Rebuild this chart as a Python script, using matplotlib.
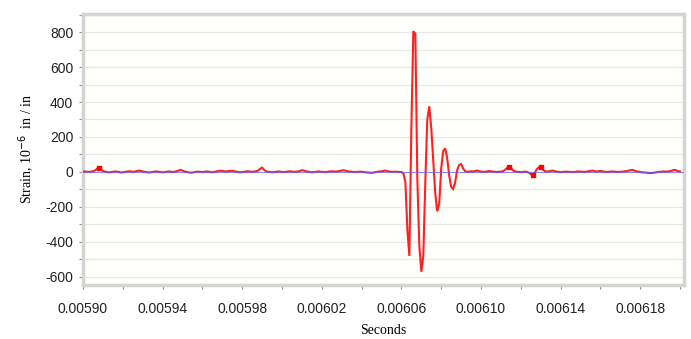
import numpy as np
import matplotlib
matplotlib.use("Agg")
import matplotlib.pyplot as plt
from matplotlib.ticker import MultipleLocator, FixedLocator

plt.rcParams["axes.unicode_minus"] = False

# Strain gauge record, one sample per microsecond starting at t0
t0 = 0.00590
dt = 0.000001
strain = [
    2, 3, 1, 0, 2, 4, 8, 18, 25, 15,
    6, 2, 0, -2, -1, 1, 3, 2, 0, -3,
    -2, 0, 2, 4, 3, 1, 2, 5, 8, 6,
    3, 1, -1, -3, -2, 0, 2, 3, 1, 0,
    -2, -1, 1, 3, 2, 0, 1, 4, 8, 12,
    8, 3, 0, -2, -4, -3, -1, 1, 2, 0,
    -1, 1, 3, 2, 0, -2, 0, 3, 5, 8,
    6, 4, 3, 5, 6, 7, 4, 2, 0, -2,
    -1, 1, 3, 4, 2, 1, 2, 4, 8, 18,
    25, 12, 4, 1, 0, -2, -1, 1, 3, 2,
    0, -1, 1, 3, 4, 2, 1, 2, 3, 6,
    10, 8, 4, 2, 0, -2, -1, 1, 3, 2,
    1, 0, -1, 1, 3, 4, 3, 2, 4, 6,
    8, 10, 7, 4, 2, 1, 0, -1, 1, 2,
    1, 0, -2, -3, -4, -5, -3, -1, 1, 3,
    4, 6, 8, 5, 2, 0, 1, 2, 1, 0,
    0, -8, -60, -330, -480, 250, 805, 790, -40, -420,
    -570, -480, -60, 300, 375, 250, 60, -120, -225, -180,
    20, 120, 135, 80, -20, -85, -97, -60, 10, 40,
    45, 20, 5, 0, 2, 4, 3, 5, 8, 5,
    2, 0, 1, 3, 6, 4, 2, 1, 0, 1,
    2, 4, 12, 22, 28, 24, 10, 4, 1, 0,
    -1, 0, 2, 1, -4, -12, -19, -5, 15, 26,
    28, 15, 6, 2, 3, 6, 8, 5, 2, 0,
    -1, 0, 1, 2, 1, 0, -1, 0, 2, 3,
    2, 1, 0, 2, 4, 6, 8, 5, 3, 4,
    6, 4, 2, 0, 1, 2, 3, 2, 1, 0,
    1, 2, 3, 5, 7, 10, 12, 8, 4, 2,
    0, -2, -3, -4, -5, -6, -6, -4, -2, 0,
    1, 2, 3, 2, 3, 5, 8, 12, 10, 5,
    3,
]
# samples highlighted with square markers
marked_idx = [8, 214, 226, 230]

x_ticks = [0.00590, 0.00594, 0.00598, 0.00602, 0.00606, 0.00610, 0.00614, 0.00618]
x_tick_labels = ["0.00590", "0.00594", "0.00598", "0.00602",
                 "0.00606", "0.00610", "0.00614", "0.00618"]
y_ticks = [-600, -400, -200, 0, 200, 400, 600, 800]

strain = np.array(strain, dtype=float)
t = t0 + dt * np.arange(len(strain))

fig = plt.figure(figsize=(6.91, 3.39), dpi=100)
ax = fig.add_axes([83 / 691, 1 - 285 / 339, (684 - 83) / 691, (285 - 14) / 339])
ax.set_facecolor("#fffffc")

# grid every 100 microstrain
for yv in np.arange(-600, 901, 100):
    ax.axhline(yv, color="#e8e8e8", lw=0.9, zorder=0)

ax.plot(t, strain, color="#ff2020", lw=1.5, zorder=3, solid_joinstyle="miter")
ax.plot(t[marked_idx], strain[marked_idx], ls="none", marker="s", ms=3.2,
        color="#ff0000", zorder=4)
ax.axhline(0, color="#6060ff", lw=0.8, alpha=0.7, zorder=4)

ax.set_xlim(0.00590, 0.006202)
ax.set_ylim(-646, 903)

ax.xaxis.set_major_locator(FixedLocator(x_ticks))
ax.set_xticklabels(x_tick_labels)
ax.xaxis.set_minor_locator(MultipleLocator(0.00002))
ax.set_yticks(y_ticks)
ax.yaxis.set_minor_locator(MultipleLocator(100))

for lab in ax.get_xticklabels() + ax.get_yticklabels():
    lab.set_fontfamily("Liberation Sans")
    lab.set_fontsize(10)
    lab.set_color("#222222")

ax.tick_params(axis="both", which="both", direction="out", color="#909090",
               length=3, width=0.8)
ax.tick_params(axis="x", pad=9)
ax.tick_params(axis="y", pad=4)

for side, sp in ax.spines.items():
    sp.set_color("#d4d4d4")
    sp.set_linewidth(2.5)

ax.set_xlabel("Seconds", family="Liberation Serif", size=10, labelpad=6)
ax.set_ylabel(r"Strain, 10$^{-6}$  in / in", family="Liberation Serif", size=10,
              labelpad=6)

fig.savefig("out.png", dpi=100)
